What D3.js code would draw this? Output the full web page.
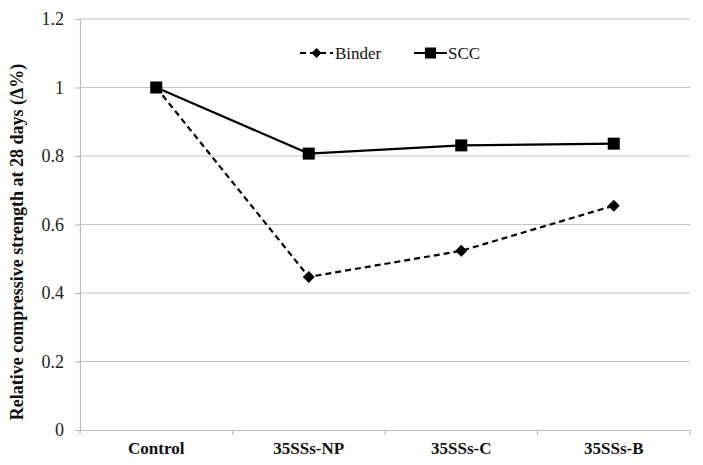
<!DOCTYPE html>
<html><head><meta charset="utf-8">
<script src="https://cdn.jsdelivr.net/npm/d3@7"></script>
<style>body{margin:0;background:#fff}svg{display:block}text{font-family:"Liberation Serif","Times New Roman",serif}</style>
</head><body><svg id="c" width="703" height="465"></svg>
<script>
const categories = ["Control","35SSs-NP","35SSs-C","35SSs-B"];
const binder = [1, 0.447, 0.523, 0.655];
const scc = [1, 0.807, 0.831, 0.836];
const yTicks = [0, 0.2, 0.4, 0.6, 0.8, 1, 1.2];
const yTickLabels = ["0","0.2","0.4","0.6","0.8","1","1.2"];
const yTitle = "Relative compressive strength at 28 days (\u0394%)";

const svg = d3.select("#c");
const L = 80, R = 690, T = 19, B = 430;
const x = d3.scaleBand().domain(categories).range([L, R]);
const y = d3.scaleLinear().domain([0, 1.2]).range([B, T]);

// gridlines
svg.append("g").selectAll("line").data(yTicks.filter(d => d > 0)).join("line")
  .attr("x1", L).attr("x2", R).attr("y1", d => y(d)).attr("y2", d => y(d))
  .attr("stroke", "#c4c4c4").attr("stroke-width", 1.2);

// y axis
const ya = svg.append("g").attr("transform", `translate(${L},0)`)
  .call(d3.axisLeft(y).tickValues(yTicks).tickFormat((d, i) => yTickLabels[i]).tickSize(5).tickPadding(11));
ya.select(".domain").attr("stroke", "#bcbcbc").attr("stroke-width", 1.2);
ya.selectAll(".tick line").attr("stroke", "#bcbcbc").attr("stroke-width", 1.2);
ya.selectAll("text").attr("font-size", 18).attr("fill", "#222").style("font-family", "Liberation Serif");

// x axis
const xa = svg.append("g").attr("transform", `translate(0,${B})`)
  .call(d3.axisBottom(x).tickSize(0).tickPadding(12));
xa.select(".domain").attr("stroke", "#bcbcbc").attr("stroke-width", 1.2);
xa.selectAll("text").attr("font-size", 17).attr("font-weight", "bold").attr("fill", "#111").style("font-family", "Liberation Serif");
// category boundary ticks
const bounds = categories.map(c => x(c)).concat([R]);
svg.append("g").selectAll("line").data(bounds).join("line")
  .attr("x1", d => d).attr("x2", d => d).attr("y1", B).attr("y2", B + 5)
  .attr("stroke", "#bcbcbc").attr("stroke-width", 1.2);

// y title
svg.append("text").attr("transform", `translate(23,242) rotate(-90)`)
  .attr("text-anchor", "middle").attr("font-size", 18).attr("font-weight", "bold").attr("fill", "#111")
  .text(yTitle);

const cx = c => x(c) + x.bandwidth() / 2;
const line = d3.line().x((d, i) => cx(categories[i])).y(d => y(d));

// binder
svg.append("path").datum(binder).attr("d", line).attr("fill", "none")
  .attr("stroke", "#000").attr("stroke-width", 2.2).attr("stroke-dasharray", "6,4");
svg.append("g").selectAll("path").data(binder).join("path")
  .attr("transform", (d, i) => `translate(${cx(categories[i])},${y(d)}) rotate(45)`)
  .attr("d", d3.symbol().type(d3.symbolSquare).size(72)).attr("fill", "#000");

// scc
svg.append("path").datum(scc).attr("d", line).attr("fill", "none")
  .attr("stroke", "#000").attr("stroke-width", 2.2);
svg.append("g").selectAll("rect").data(scc).join("rect")
  .attr("x", (d, i) => cx(categories[i]) - 6).attr("y", d => y(d) - 6)
  .attr("width", 12).attr("height", 12).attr("fill", "#000");

// legend
const ly = 53;
const lg = svg.append("g");
lg.append("line").attr("x1", 300).attr("x2", 333).attr("y1", ly).attr("y2", ly)
  .attr("stroke", "#000").attr("stroke-width", 2.2).attr("stroke-dasharray", "6,4");
lg.append("path").attr("transform", `translate(316.5,${ly}) rotate(45)`)
  .attr("d", d3.symbol().type(d3.symbolSquare).size(50)).attr("fill", "#000");
lg.append("text").attr("x", 335).attr("y", ly + 6).attr("font-size", 17).attr("fill", "#111").text("Binder");
lg.append("line").attr("x1", 414).attr("x2", 447).attr("y1", ly).attr("y2", ly)
  .attr("stroke", "#000").attr("stroke-width", 2.2);
lg.append("rect").attr("x", 425).attr("y", ly - 5.5).attr("width", 11).attr("height", 11).attr("fill", "#000");
lg.append("text").attr("x", 448).attr("y", ly + 6).attr("font-size", 17).attr("fill", "#111").text("SCC");
</script></body></html>
